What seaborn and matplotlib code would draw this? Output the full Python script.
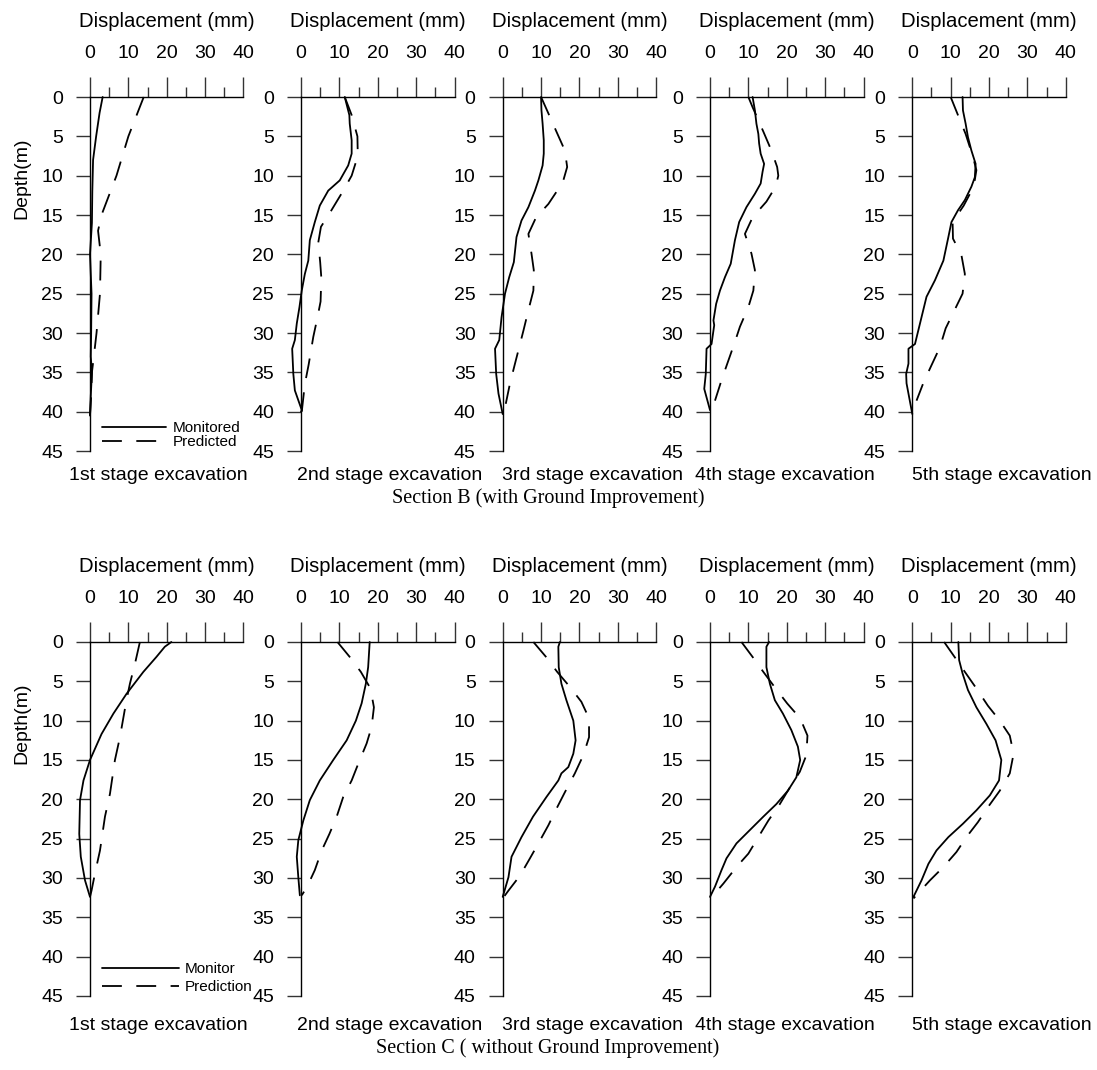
import matplotlib
matplotlib.use('Agg')
import matplotlib.pyplot as plt
import seaborn as sns
from matplotlib.ticker import MultipleLocator

sns.set_theme(style='ticks')
plt.rcParams['font.family'] = ['Liberation Sans', 'DejaVu Sans']
plt.rcParams.update({'text.color': 'black', 'axes.labelcolor': 'black',
                     'xtick.color': 'black', 'ytick.color': 'black'})

stages = ['1st stage excavation', '2nd stage excavation', '3rd stage excavation',
          '4th stage excavation', '5th stage excavation']
x_ticks = [0, 10, 20, 30, 40]
depth_ticks = [0, 5, 10, 15, 20, 25, 30, 35, 40, 45]

# Section B (with ground improvement): depth (m) / displacement (mm)
b1_mon_d = [0, 2, 5, 8, 12, 16, 20, 25, 30, 33, 35, 38, 40.5]
b1_mon_x = [3.3, 2.5, 1.6, 0.8, 0.6, 0.5, 0.0, 0.4, 0.3, 0.2, 0.5, 0.2, 0.0]
b1_pre_d = [0, 5, 10, 15, 17, 20, 25, 30, 33, 35, 38, 40.5]
b1_pre_x = [14.0, 10.0, 6.9, 3.0, 2.1, 2.8, 2.6, 1.7, 1.0, 0.5, 0.3, 0.0]

b2_mon_d = [0, 2.3, 3.4, 5.5, 7.2, 8.7, 10.6, 11.9, 13.8, 15.9, 18.2, 20.8, 22.5, 24.6,
            26.7, 28.8, 30.9, 32, 35.2, 37.3, 39.8, 40]
b2_mon_x = [11.4, 12.6, 12.7, 13.2, 13.2, 12.3, 10.1, 7.1, 4.9, 3.6, 2.3, 1.9, 1.0, 0.2,
            -0.4, -1.1, -1.6, -2.3, -2.0, -1.6, 0.2, 0.0]
b2_pre_d = [0, 2.3, 5, 7.5, 10, 12, 14.5, 16.5, 18.5, 21, 23, 26, 28, 30.5, 34, 36.5, 40]
b2_pre_x = [11.4, 13.2, 14.7, 14.8, 13.2, 10.9, 7.8, 5.2, 4.5, 5.0, 5.3, 5.1, 4.3, 3.2,
            2.0, 1.0, 0.2]

b3_mon_d = [0, 1.7, 3.4, 5.5, 7.2, 8.7, 10.6, 11.9, 14, 15.7, 17.8, 21, 22.9, 25, 28,
            30.9, 32, 35.2, 37.7, 40.3]
b3_mon_x = [10.0, 10.1, 10.4, 10.7, 10.7, 10.4, 9.3, 8.4, 6.7, 4.9, 3.6, 2.9, 1.7, 0.6,
            -0.3, -0.9, -2.0, -1.7, -1.1, 0.0]
b3_pre_d = [0, 2.3, 4.4, 6.8, 8.9, 10.6, 11.4, 13.6, 15.3, 17.4, 19.9, 22, 24.6, 27.1,
            29.7, 33.9, 36.4, 39]
b3_pre_x = [10.0, 12.1, 14.0, 16.2, 16.8, 15.8, 14.9, 11.9, 8.7, 6.7, 7.5, 8.1, 8.0, 6.7,
            5.4, 3.2, 1.9, 0.8]

b4_mon_d = [0, 1.7, 3.4, 4.7, 5.9, 7.2, 8.5, 9.5, 11, 12.3, 14, 15.9, 18.2, 21.2, 22.9,
            24.6, 26.3, 28.4, 29, 31.4, 32, 35.2, 37.1, 39.8]
b4_mon_x = [11.1, 11.7, 12.1, 12.6, 12.8, 13.2, 14.1, 13.7, 13.2, 11.7, 9.5, 7.6, 6.5,
            5.4, 3.9, 2.6, 1.6, 0.9, 1.1, 0.4, -0.9, -1.1, -1.5, 0.0]
b4_pre_d = [0, 1.3, 4.4, 6.8, 8.9, 10, 11.4, 13.3, 15.3, 17.4, 19.9, 22, 24.6, 26.7,
            29.2, 31.4, 33.9, 36, 38.6]
b4_pre_x = [10.0, 11.1, 13.9, 16.0, 17.5, 17.8, 17.1, 14.7, 11.1, 9.1, 10.8, 11.7, 11.3,
            10.0, 7.8, 6.3, 4.5, 3.0, 1.3]

b5_mon_d = [0, 1.7, 3.4, 5.1, 6.8, 8.5, 10.2, 11.4, 13.1, 14.4, 15.9, 17.8, 20.8, 23.3,
            25.4, 28, 29.2, 31.4, 32, 33.9, 35.2, 36.4, 40.3]
b5_mon_x = [13.1, 13.2, 13.9, 14.5, 15.4, 16.5, 16.3, 15.4, 13.7, 11.9, 10.2, 9.4, 8.1,
            5.9, 3.7, 2.4, 1.8, 0.7, -1.0, -1.0, -1.6, -1.5, 0.0]
b5_pre_d = [0, 2.3, 4.7, 7.6, 9.3, 11.4, 13.8, 15.9, 18, 20.1, 22.5, 25, 27.3, 29.4,
            31.8, 34.1, 36.2, 38.6]
b5_pre_x = [10.0, 11.9, 13.9, 15.8, 16.7, 16.0, 13.4, 10.5, 10.6, 12.8, 13.7, 13.1, 10.8,
            8.7, 7.2, 5.0, 3.0, 1.1]

# Section C (without ground improvement)
c1_mon_d = [0, 0.6, 1.9, 3.8, 6.6, 9.1, 11.7, 15, 17.6, 20.1, 24.4, 27.3, 30.3, 32.4]
c1_mon_x = [21.2, 19.5, 17.3, 13.9, 9.5, 6.1, 3.0, 0.0, -1.7, -2.6, -2.8, -2.4, -1.3, 0.0]
c1_pre_d = [0, 2.8, 5.3, 7.4, 12.1, 15, 19.3, 22.2, 26.5, 29.4, 31.6, 32.4]
c1_pre_x = [13.0, 11.7, 10.4, 9.5, 7.8, 6.5, 5.2, 3.9, 2.6, 1.3, 0.4, 0.0]

c2_mon_d = [0, 3.2, 5.3, 7.8, 10, 12.5, 15, 17.6, 20.1, 22.7, 25.2, 27.3, 29.9, 32.2]
c2_mon_x = [17.9, 17.5, 16.9, 15.8, 14.3, 11.9, 8.4, 4.9, 2.3, 0.6, -0.7, -1.1, -0.7, -0.3]
c2_pre_d = [0, 1.9, 3.8, 5.9, 8.3, 10.8, 12.9, 15.5, 17.6, 19.7, 22.2, 24.4, 26.5, 29,
            31.1, 32.2]
c2_pre_x = [9.5, 12.7, 15.6, 18.1, 19.0, 18.4, 17.1, 14.9, 13.2, 11.0, 9.3, 7.4, 5.4, 3.6,
            1.6, 0.2]

c3_mon_d = [0, 0.6, 3.2, 5.3, 7.4, 10, 12.5, 14.2, 15.9, 16.7, 17.6, 19.7, 22.2, 24.8,
            27.3, 29.9, 32.4]
c3_mon_x = [14.9, 14.5, 14.6, 15.3, 16.6, 18.4, 19.0, 18.4, 17.1, 15.3, 14.5, 11.4, 7.9,
            4.9, 2.3, 1.5, 0.0]
c3_pre_d = [0, 1.9, 3.8, 5.7, 7.6, 9.7, 12.1, 14.4, 16.7, 19.1, 21.2, 23.3, 25.6, 27.5,
            29.7, 31.6, 32.4]
c3_pre_x = [8.0, 11.3, 14.2, 17.5, 20.5, 22.5, 22.5, 21.0, 18.8, 16.2, 14.0, 11.9, 9.3,
            7.1, 4.5, 1.5, 0.3]

c4_mon_d = [0, 0.6, 3.2, 5.3, 7.4, 9.1, 11.2, 13.3, 15, 17.2, 18.9, 20.6, 22.2, 23.9,
            25.6, 27.5, 29, 31.1, 32.4]
c4_mon_x = [15.4, 14.7, 14.7, 15.6, 16.9, 19.0, 21.2, 22.9, 23.5, 22.5, 20.3, 17.3, 13.9,
            10.4, 6.9, 4.3, 3.0, 1.3, 0.0]
c4_pre_d = [0, 1.9, 3.8, 5.9, 7.8, 9.7, 11.9, 14.4, 16.5, 18.9, 20.6, 22.7, 24.8, 26.9,
            28.6, 30.7, 32.4]
c4_pre_x = [8.2, 11.1, 13.9, 17.1, 20.1, 23.5, 25.4, 25.1, 23.4, 20.3, 18.2, 15.2, 12.6,
            10.0, 6.9, 3.5, 0.5]

c5_mon_d = [0, 2.3, 4.0, 6.1, 8.3, 10.4, 12.5, 15, 17.6, 19.5, 21.4, 23.1, 24.8, 26.5,
            28.2, 30.3, 32.4]
c5_mon_x = [12.0, 12.2, 13.1, 14.5, 16.7, 19.3, 21.7, 23.2, 22.6, 20.2, 16.7, 13.2, 9.4,
            6.3, 4.2, 2.4, 0.3]
c5_pre_d = [0, 2.1, 3.8, 5.9, 8.1, 10, 11.9, 14.2, 16.7, 18.9, 21, 22.9, 24.8, 26.7,
            28.6, 30.3, 32.6]
c5_pre_x = [8.3, 11.3, 13.7, 16.7, 19.7, 22.8, 25.4, 26.4, 25.4, 22.8, 19.7, 17.1, 14.1,
            11.5, 8.1, 4.6, 0.3]

rows = [
    [(b1_mon_x, b1_mon_d, b1_pre_x, b1_pre_d), (b2_mon_x, b2_mon_d, b2_pre_x, b2_pre_d),
     (b3_mon_x, b3_mon_d, b3_pre_x, b3_pre_d), (b4_mon_x, b4_mon_d, b4_pre_x, b4_pre_d),
     (b5_mon_x, b5_mon_d, b5_pre_x, b5_pre_d)],
    [(c1_mon_x, c1_mon_d, c1_pre_x, c1_pre_d), (c2_mon_x, c2_mon_d, c2_pre_x, c2_pre_d),
     (c3_mon_x, c3_mon_d, c3_pre_x, c3_pre_d), (c4_mon_x, c4_mon_d, c4_pre_x, c4_pre_d),
     (c5_mon_x, c5_mon_d, c5_pre_x, c5_pre_d)],
]
legend_names = [('Monitored', 'Predicted'), ('Monitor', 'Prediction')]
captions = ['Section B (with Ground Improvement)', 'Section C ( without Ground Improvement)']

W, H = 1097, 1070
fig = plt.figure(figsize=(W / 100, H / 100), dpi=100)

lefts = [90, 301, 502.7, 710, 912.3]
tops = [97, 642]
ax_w, ax_h = 153.5, 354
title_x = [158, 390, 593, 785, 1002]
title_y = [475, 1025]
caption_y = [498, 1048]

dash = (0, (11, 8))
fs = 14

for r, row in enumerate(rows):
    for c, (mx, md, px, pd_) in enumerate(row):
        ax = fig.add_axes([lefts[c] / W, 1 - (tops[r] + ax_h) / H, ax_w / W, ax_h / H])
        sns.lineplot(x=mx, y=md, sort=False, estimator=None, color='black', lw=1.3,
                     ax=ax, clip_on=False, label=legend_names[r][0])
        sns.lineplot(x=px, y=pd_, sort=False, estimator=None, color='black', lw=1.3,
                     linestyle=dash, ax=ax, clip_on=False, label=legend_names[r][1])
        ax.set_xlim(0, 40)
        ax.set_ylim(45, 0)
        ax.xaxis.tick_top()
        ax.xaxis.set_label_position('top')
        ax.set_xticks(x_ticks)
        ax.xaxis.set_minor_locator(MultipleLocator(5))
        ax.set_yticks(depth_ticks)
        ax.tick_params(axis='x', which='major', direction='out', length=14.5, width=1,
                       pad=11, labelsize=fs, color='#333333')
        ax.tick_params(axis='x', which='minor', direction='out', length=7, width=1,
                       color='#333333')
        ax.tick_params(axis='y', direction='out', length=10, width=1, pad=9.5,
                       labelsize=fs, color='#333333')
        for side in ['right', 'bottom']:
            ax.spines[side].set_visible(False)
        for side in ['left', 'top']:
            ax.spines[side].set_linewidth(1)
            ax.spines[side].set_color('black')
        ax.set_xlabel('Displacement (mm)', fontsize=14.6, labelpad=13)
        if c == 0:
            ax.set_ylabel('Depth(m)', fontsize=fs)
            ax.yaxis.set_label_coords(-0.39, 0.77)
            if r == 0:
                ax.legend(loc='lower left', bbox_to_anchor=(0.02, -0.02), frameon=False,
                          fontsize=11, handlelength=4.2, handletextpad=0.4,
                          labelspacing=0.0, borderaxespad=0.2)
            else:
                ax.legend(loc='lower left', bbox_to_anchor=(0.02, -0.02), frameon=False,
                          fontsize=11, handlelength=5.0, handletextpad=0.4,
                          labelspacing=0.25, borderaxespad=0.2)
        else:
            ax.set_ylabel('')
            ax.get_legend().remove()
        fig.text(title_x[c] / W, 1 - title_y[r] / H, stages[c], ha='center', va='center',
                 fontsize=fs)
    fig.text(548 / W, 1 - caption_y[r] / H, captions[r], ha='center', va='center',
             fontsize=14.5, family='Liberation Serif')

fig.savefig('out.png', dpi=100)
